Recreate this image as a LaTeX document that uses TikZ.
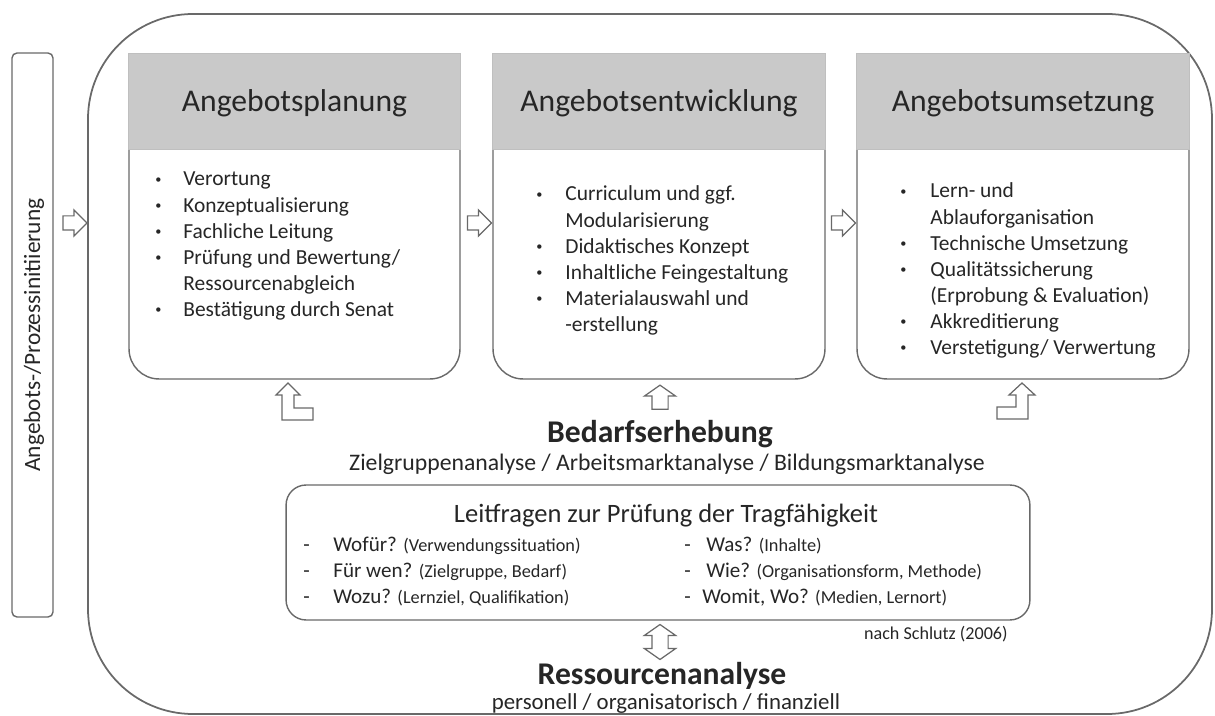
\documentclass[tikz,border=0pt]{standalone}
\usepackage{fontspec}
\setmainfont{Carlito}
\usetikzlibrary{shapes.arrows}

\definecolor{linie}{RGB}{105,105,105}
\definecolor{kopf}{RGB}{201,201,201}
\definecolor{schrift}{RGB}{38,38,38}

\tikzset{
  rahmen/.style={draw=linie, line width=1pt},
  karte/.style={draw=linie, line width=0.8pt, fill=white, rounded corners=0.6cm, inner sep=0pt},
  kopfzeile/.style={draw=gray!50, fill=kopf, line width=0.6pt},
  titel/.style={font=\fontsize{18}{22}\selectfont, text=schrift, anchor=base, inner sep=0pt},
  liste/.style={font=\fontsize{12.2}{14.8}\selectfont, text=schrift, anchor=base west, inner sep=0pt},
  mitte/.style={text=schrift, anchor=base, inner sep=0pt},
  blockpfeil/.style={draw=linie, fill=white, line width=0.7pt},
  rechtspfeil/.style={blockpfeil, single arrow, minimum height=0.48cm,
    single arrow head extend=0.12cm, inner xsep=0pt, inner ysep=0.13cm},
  hochpfeil/.style={blockpfeil, single arrow, rotate=90, minimum height=0.48cm,
    single arrow head extend=0.15cm, single arrow tip angle=110, inner xsep=0pt, inner ysep=0.15cm}
}

\newcommand{\klein}[1]{{\fontsize{10.4}{12}\selectfont #1}}
\newcommand{\punkt}{\raisebox{0.12em}{\fontsize{7}{7}\selectfont\textbullet}}

\begin{document}
\begin{tikzpicture}[x=0.02cm, y=-0.02cm]
\useasboundingbox (0,0) rectangle (1215,716);

% aeusserer Rahmen
\draw[rahmen, rounded corners=2.1cm] (88,14) rectangle (1212,714);

% Initiierung links
\draw[rahmen, line width=0.8pt, rounded corners=0.1cm] (12,53) rectangle (53,617);
\node[rotate=90, text=schrift, font=\fontsize{13.3}{16}\selectfont] (init) at (34,335) {Angebots-/Prozessinitiierung};
\node[rechtspfeil] (p0) at (71.5,223) {};

% Angebotsplanung
\node[karte, minimum width=6.62cm, minimum height=6.5cm] (plan) at (294.5,216.5) {};
\filldraw[kopfzeile] (plan.north west) rectangle ([yshift=-1.92cm]plan.north east);
\node[titel] (planT) at (294.5,112) {Angebotsplanung};
\node[liste] (planL) at (155,186) {\begin{tabular}[t]{@{}p{0.56cm}@{}l@{}}
  \punkt & Verortung\\
  \punkt & Konzeptualisierung\\
  \punkt & Fachliche Leitung\\
  \punkt & Prüfung und Bewertung/\\
         & Ressourcenabgleich\\
  \punkt & Bestätigung durch Senat
\end{tabular}};

\node[rechtspfeil] (p1) at (476,223) {};

% Angebotsentwicklung
\node[karte, minimum width=6.64cm, minimum height=6.5cm] (entw) at (659,216.5) {};
\filldraw[kopfzeile] (entw.north west) rectangle ([yshift=-1.92cm]entw.north east);
\node[titel] (entwT) at (659,112) {Angebotsentwicklung};
\node[liste] (entwL) at (536,201) {\begin{tabular}[t]{@{}p{0.58cm}@{}l@{}}
  \punkt & Curriculum und ggf.\\
         & Modularisierung\\
  \punkt & Didaktisches Konzept\\
  \punkt & Inhaltliche Feingestaltung\\
  \punkt & Materialauswahl und\\
         & -erstellung
\end{tabular}};

\node[rechtspfeil] (p2) at (840,223) {};

% Angebotsumsetzung
\node[karte, minimum width=6.64cm, minimum height=6.5cm] (umsetz) at (1023,216.5) {};
\filldraw[kopfzeile] (umsetz.north west) rectangle ([yshift=-1.92cm]umsetz.north east);
\node[titel] (umsetzT) at (1023,112) {Angebotsumsetzung};
\node[liste] (umsetzL) at (900,198) {\begin{tabular}[t]{@{}p{0.6cm}@{}l@{}}
  \punkt & Lern- und\\
         & Ablauforganisation\\
  \punkt & Technische Umsetzung\\
  \punkt & Qualitätssicherung\\
         & (Erprobung \& Evaluation)\\
  \punkt & Akkreditierung\\
  \punkt & Verstetigung/ Verwertung
\end{tabular}};

% Pfeile von der Bedarfserhebung
\filldraw[blockpfeil] (288,383) -- (300,395) -- (294,395) -- (294,408) -- (313,408)
  -- (313,420) -- (282,420) -- (282,395) -- (276,395) -- cycle;
\node[hochpfeil] (p3) at (660,400) {};
\filldraw[blockpfeil] (1022,383) -- (1035,395) -- (1028,395) -- (1028,419) -- (997,419)
  -- (997,407) -- (1016,407) -- (1016,395) -- (1009,395) -- cycle;

% Bedarfserhebung
\node[mitte, font=\fontsize{18}{22}\selectfont\bfseries] (bedarf) at (660,443) {Bedarfserhebung};
\node[mitte, font=\fontsize{13.5}{16}\selectfont] (bedarfU) at (667,471)
  {Zielgruppenanalyse / Arbeitsmarktanalyse / Bildungsmarktanalyse};

% Leitfragen
\node[draw=linie, line width=0.8pt, rounded corners=0.4cm, minimum width=14.88cm, minimum height=2.7cm] (leit) at (658,552.5) {};
\node[mitte, font=\fontsize{15.1}{18}\selectfont] (leitT) at (666,522) {Leitfragen zur Prüfung der Tragfähigkeit};
\node[liste, font=\fontsize{12}{14.8}\selectfont] (leitL) at (303,551) {\begin{tabular}[t]{@{}p{0.6cm}@{}l@{}}
  - & Wofür? \klein{(Verwendungssituation)}\\
  - & Für wen? \klein{(Zielgruppe, Bedarf)}\\
  - & Wozu? \klein{(Lernziel, Qualifikation)}
\end{tabular}};
\node[liste, font=\fontsize{12}{14.8}\selectfont] (leitR) at (684,551) {\begin{tabular}[t]{@{}p{0.44cm}@{}l@{}}
  - & Was? \klein{(Inhalte)}\\
  - & Wie? \klein{(Organisationsform, Methode)}\\
  - & \hspace{-0.08cm}Womit, Wo? \klein{(Medien, Lernort)}
\end{tabular}};
\node[text=schrift, anchor=base east, inner sep=0pt, font=\fontsize{10.3}{12}\selectfont] (quelle) at (1008,639) {nach Schlutz (2006)};

\node[blockpfeil, double arrow, rotate=90, minimum height=0.7cm, double arrow head extend=0.15cm,
  double arrow tip angle=110, inner xsep=0pt, inner ysep=0.15cm] (p4) at (660,642) {};

% Ressourcenanalyse
\node[mitte, font=\fontsize{18}{22}\selectfont\bfseries] (ress) at (662,684) {Ressourcenanalyse};
\node[mitte, font=\fontsize{13}{16}\selectfont] (ressU) at (666,709) {personell / organisatorisch / finanziell};
\end{tikzpicture}
\end{document}
